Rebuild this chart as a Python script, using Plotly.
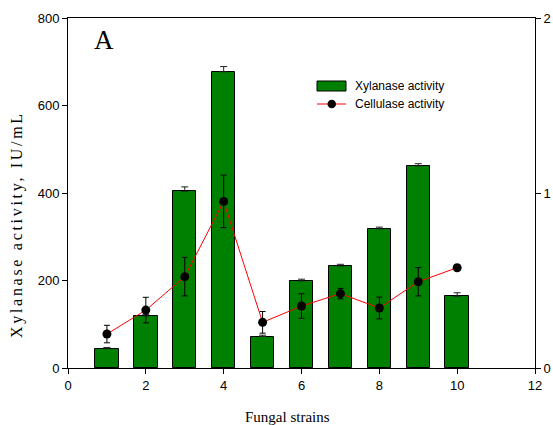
import plotly.graph_objects as go

# ---- data ----
strains = [1, 2, 3, 4, 5, 6, 7, 8, 9, 10]
xylanase = [44, 119, 404, 677, 72, 199, 233, 318, 462, 164]
xylanase_err = [3, 3, 10, 12, 3, 4, 4, 4, 5, 8]
cellulase = [0.194, 0.331, 0.522, 0.952, 0.261, 0.354, 0.425, 0.343, 0.493, 0.573]
cellulase_err = [0.05, 0.073, 0.11, 0.15, 0.062, 0.07, 0.03, 0.062, 0.081, 0.0]
x_ticks = [0, 2, 4, 6, 8, 10, 12]
y_ticks = [0, 200, 400, 600, 800]
y2_ticks = [0, 1, 2]

# ---- layout geometry (pixels) ----
W, H = 553, 425
L, R, T, B = 68, 535, 18, 368
def px(xp):
    return (xp - L) / (R - L)
def py(yp):
    return (B - yp) / (B - T)

fig = go.Figure()
fig.add_trace(go.Bar(
    x=strains, y=xylanase, width=0.6,
    marker=dict(color="#008000", line=dict(color="black", width=1)),
    error_y=dict(type="data", array=xylanase_err, arrayminus=[0]*len(xylanase_err),
                 symmetric=False, color="#222222", thickness=1, width=3.5),
    name="Xylanase activity", showlegend=False,
))
fig.add_trace(go.Scatter(
    x=strains, y=cellulase, yaxis="y2", mode="lines+markers",
    line=dict(color="red", width=1),
    marker=dict(color="black", size=9),
    error_y=dict(type="data", array=cellulase_err, color="black", thickness=1, width=3),
    name="Cellulase activity", showlegend=False,
))

tickfont = dict(family="Arial, Liberation Sans, sans-serif", size=13, color="black")
serif = "Times New Roman, Liberation Serif, serif"

fig.update_layout(
    width=W, height=H,
    margin=dict(l=L, r=W - R, t=T, b=H - B, pad=0, autoexpand=False),
    plot_bgcolor="white", paper_bgcolor="white",
    showlegend=False,
    bargap=0,
    xaxis=dict(range=[0, 12], tickvals=x_ticks, ticks="outside", ticklen=5,
               tickcolor="black", showline=True, linecolor="black", linewidth=1,
               mirror=True, showgrid=False, zeroline=False, tickfont=tickfont,
               automargin=False),
    yaxis=dict(range=[0, 800], tickvals=y_ticks, ticks="outside", ticklen=5,
               tickcolor="black", showline=True, linecolor="black", linewidth=1,
               mirror=True, showgrid=False, zeroline=False, tickfont=tickfont,
               automargin=False),
    yaxis2=dict(range=[0, 2], tickvals=y2_ticks, overlaying="y", side="right",
                ticks="outside", ticklen=5, tickcolor="black", showline=True,
                linecolor="black", linewidth=1, showgrid=False, zeroline=False,
                tickfont=tickfont, automargin=False),
)

# Panel letter
fig.add_annotation(text="A", xref="paper", yref="paper", x=px(104), y=py(40),
                   xanchor="center", yanchor="middle", showarrow=False,
                   font=dict(family=serif, size=27, color="black"))
# Axis titles
fig.add_annotation(text='<span style="letter-spacing:2.7px">Xylanase activity, IU/mL</span>',
                   xref="paper", yref="paper", x=px(17), y=py(225),
                   xanchor="center", yanchor="middle", textangle=-90, showarrow=False,
                   font=dict(family=serif, size=16, color="black"))
fig.add_annotation(text="Fungal strains", xref="paper", yref="paper", x=px(287), y=py(417),
                   xanchor="center", yanchor="middle", showarrow=False,
                   font=dict(family=serif, size=15, color="black"))

# Manual legend
legfont = dict(family="Arial, Liberation Sans, sans-serif", size=12, color="black")
fig.add_shape(type="rect", xref="paper", yref="paper",
              x0=px(317), x1=px(346), y0=py(91), y1=py(81),
              fillcolor="#008000", line=dict(color="black", width=1))
fig.add_annotation(text="Xylanase activity", xref="paper", yref="paper", x=px(353), y=py(86),
                   xanchor="left", yanchor="middle", showarrow=False, font=legfont)
fig.add_shape(type="line", xref="paper", yref="paper",
              x0=px(317), x1=px(346), y0=py(104), y1=py(104),
              line=dict(color="red", width=1))
fig.add_shape(type="circle", xref="paper", yref="paper",
              x0=px(327.5), x1=px(336), y0=py(99.7), y1=py(108.3),
              fillcolor="black", line=dict(color="black", width=0))
fig.add_annotation(text="Cellulase activity", xref="paper", yref="paper", x=px(353), y=py(104),
                   xanchor="left", yanchor="middle", showarrow=False, font=legfont)

fig.write_html("out.html")
